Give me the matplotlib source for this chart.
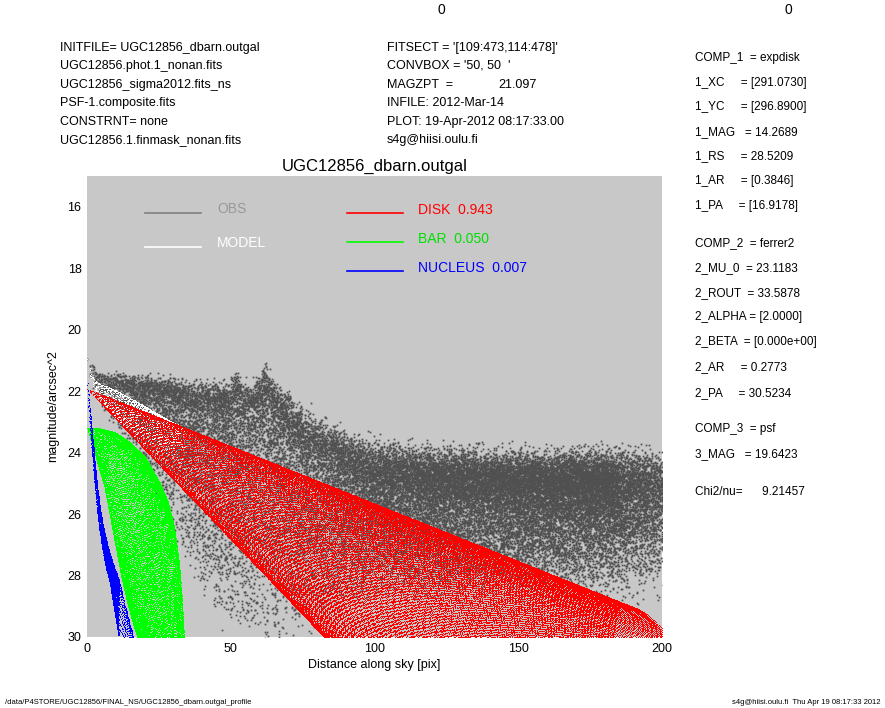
import numpy as np
import matplotlib
matplotlib.use('Agg')
import matplotlib.pyplot as plt

plt.rcParams['font.family'] = ['Liberation Sans', 'DejaVu Sans']

# image section and centre (from the header text)
sect_x = (109, 473)
sect_y = (114, 478)
xc, yc = 291.0730, 296.8900

# component shapes: axis ratio and position angle from the header
disk_q, disk_pa = 0.3846, 16.9178
bar_q, bar_pa = 0.2773, 30.5234
psf_q, psf_pa = 0.75, 0.0

# disk: bright (major axis) and faint (minor axis) edges
disk_r = [0, 50, 100, 150, 200]
disk_bright = [21.95, 23.82, 25.69, 27.56, 29.43]
disk_faint = [21.95, 26.85, 31.75, 36.65, 41.55]

# bar (ferrer2)
bar_r = [0, 5, 10, 15, 20, 25, 28, 30, 32, 33, 33.7, 40]
bar_bright = [23.22, 23.25, 23.38, 23.7, 24.15, 24.95, 25.6, 26.3, 27.6, 28.8, 30.0, 40.0]
bar_faint_r = [0, 2, 4, 6, 8, 10, 12, 14, 16, 17.5, 34]
bar_faint = [23.25, 23.8, 24.5, 25.1, 26.1, 27.1, 28.1, 28.9, 29.6, 30.0, 36.0]

# nucleus (psf): magnitude with inner and outer radius of the band
psf_mag = [21.75, 22.5, 23.0, 24.0, 25.0, 26.0, 26.6, 27.2, 27.8, 28.2, 29.0, 30.0]
psf_rin = [0.0, 0.4, 0.8, 1.7, 2.6, 3.6, 4.4, 5.4, 6.6, 7.8, 9.2, 11.0]
psf_rout = [0.3, 0.9, 1.4, 2.4, 3.4, 4.8, 6.0, 7.6, 9.6, 11.2, 13.2, 16.0]

obs_r = [0, 3, 6, 12, 20, 28, 35, 42, 47, 50, 52, 54, 57, 60, 62, 64, 67, 72, 80, 90, 100, 120, 150, 200]
obs_bright = [20.95, 21.45, 21.6, 21.65, 21.75, 21.85, 22.0, 22.05, 22.1, 22.05, 21.75, 22.1, 22.15,
              21.85, 21.5, 21.95, 22.35, 22.8, 23.4, 23.9, 24.3, 24.5, 24.6, 24.6]
obs_faint = [21.3, 22.0, 22.6, 23.3, 24.6, 26.2, 27.6, 28.8, 29.4, 29.6, 29.7, 29.9, 30.0,
             30.2, 30.2, 30.2, 30.2, 30.0, 29.6, 29.0, 28.6, 28.4, 28.3, 28.3]
obs_jit_r = [0, 10, 30, 60, 80, 100, 200]
obs_jit = [0.1, 0.25, 0.35, 0.5, 0.65, 0.75, 0.75]
obs_keep_r = [0, 40, 80, 200]
obs_keep = [0.9, 0.55, 0.28, 0.22]

fractions = {'DISK': '0.943', 'BAR': '0.050', 'NUCLEUS': '0.007'}


def hash01(i, seed):
    v = np.sin(i * 12.9898 + seed * 78.233) * 43758.5453
    return v - np.floor(v)


def ell_weight(theta, pa, q):
    d = np.radians(theta - pa)
    s = np.sqrt(np.cos(d) ** 2 + (np.sin(d) / q) ** 2)
    return (s - 1) / (1 / q - 1)


def pixel_grid(n, rmax):
    # pixel centres of the fitted section, n x n samples per pixel
    off = (np.arange(n) + 0.5) / n - 0.5
    xs = (np.arange(sect_x[0], sect_x[1] + 1)[:, None] + off).ravel() - xc
    ys = (np.arange(sect_y[0], sect_y[1] + 1)[:, None] + off).ravel() - yc
    xs = xs[np.abs(xs) <= rmax]
    ys = ys[np.abs(ys) <= rmax]
    gx, gy = np.meshgrid(xs, ys)
    gx, gy = gx.ravel(), gy.ravel()
    rr = np.hypot(gx, gy)
    ok = rr <= rmax
    return rr[ok], np.degrees(np.arctan2(-gx[ok], gy[ok]))


def disk_mag(rr, th):
    b = np.interp(rr, disk_r, disk_bright)
    return b + (np.interp(rr, disk_r, disk_faint) - b) * ell_weight(th, disk_pa, disk_q)


def bar_mag(rr, th):
    b = np.interp(rr, bar_r, bar_bright, right=99)
    return b + (np.interp(rr, bar_faint_r, bar_faint, right=99) - b) * ell_weight(th, bar_pa, bar_q)


def psf_mag_at(rr, th):
    b = np.interp(rr, psf_rout, psf_mag, right=99)
    f = np.interp(rr, psf_rin, psf_mag, right=99)
    return b + (f - b) * ell_weight(th, psf_pa, psf_q)


r, theta = pixel_grid(1, 201)
idx = np.arange(r.size, dtype=float)
m_disk = disk_mag(r, theta)
m_bar = bar_mag(r, theta)
m_psf = psf_mag_at(r, theta)
flux = 10 ** (-0.4 * m_disk) + 10 ** (-0.4 * m_bar) + 10 ** (-0.4 * m_psf)
m_model = -2.5 * np.log10(flux)

h1, h2, h3, h4, h5 = (hash01(idx, s) for s in (1, 2, 3, 4, 5))
ob = np.interp(r, obs_r, obs_bright)
of = np.interp(r, obs_r, obs_faint)
m_obs = ob + (of - ob) * ell_weight(theta, disk_pa, disk_q) * h1 + \
    np.interp(r, obs_jit_r, obs_jit) * (h2 + h3 + h4 - 1.5)
m_obs[h5 > np.interp(r, obs_keep_r, obs_keep)] = 99

# finer sampling for the small inner components
rb, tb = pixel_grid(3, 36)
rp, tp = pixel_grid(4, 17)

fig = plt.figure(figsize=(8.85, 7.08), dpi=100)
ax = fig.add_axes([0.0983, 0.1003, 0.6497, 0.6511])
ax.set_facecolor('#c8c8c8')
for s in ax.spines.values():
    s.set_visible(False)


def show(x, m, color, marker, ms=1.0):
    ok = m <= 30.2
    ax.plot(x[ok], m[ok], marker, color=color, ms=ms, mec='none', ls='none')


show(r, m_obs, '#505050', 's', 1.25)
show(r, m_model, 'white', ',')
show(r, m_disk, '#ff0000', ',')
show(rb, bar_mag(rb, tb), '#00ff00', ',')
show(rp, psf_mag_at(rp, tp), '#0000ff', ',')

ax.set_xlim(0, 200)
ax.set_ylim(30, 15)
ax.set_xticks([0, 50, 100, 150, 200])
ax.set_yticks(range(16, 31, 2))
ax.tick_params(length=0, labelsize=9, pad=4)
ax.set_xlabel('Distance along sky [pix]', fontsize=9, labelpad=3)
ax.set_ylabel('magnitude/arcsec^2', fontsize=9, labelpad=6)
ax.set_title('UGC12856_dbarn.outgal', fontsize=12, pad=4)

# legend
leg = [('OBS', '#808080', '#999999', 0.101, 0.920, 0.226, 0.928),
       ('MODEL', 'white', 'white', 0.101, 0.846, 0.226, 0.855),
       ('DISK  ' + fractions['DISK'], '#ff0000', '#ff0000', 0.452, 0.920, 0.576, 0.926),
       ('BAR  ' + fractions['BAR'], '#00ff00', '#00e000', 0.452, 0.857, 0.576, 0.863),
       ('NUCLEUS  ' + fractions['NUCLEUS'], '#0000ff', '#0000ff', 0.452, 0.794, 0.576, 0.800)]
for lab, lc, tc, lx, ly, tx, ty in leg:
    ax.plot([lx, lx + 0.098], [ly, ly], color=lc, lw=1.2, transform=ax.transAxes)
    ax.text(tx, ty, lab, color=tc, fontsize=10, va='center', transform=ax.transAxes)


def ftext(x, y, s, **kw):
    fig.text(x / 885, 1 - y / 708, s, va='center', **kw)


ftext(441, 10, '0', fontsize=10, ha='center')
ftext(788, 10, '0', fontsize=10, ha='center')

left_col = ['INITFILE= UGC12856_dbarn.outgal', 'UGC12856.phot.1_nonan.fits',
            'UGC12856_sigma2012.fits_ns', 'PSF-1.composite.fits',
            'CONSTRNT= none', 'UGC12856.1.finmask_nonan.fits']
mid_col = ["FITSECT = '[109:473,114:478]'", "CONVBOX = '50, 50  '", 'MAGZPT  =',
           'INFILE: 2012-Mar-14', 'PLOT: 19-Apr-2012 08:17:33.00', 's4g@hiisi.oulu.fi']
rows_y = [48, 66, 85, 103, 122, 140]
for s, y in zip(left_col, rows_y):
    ftext(60, y, s, fontsize=9)
for s, y in zip(mid_col, rows_y):
    ftext(387, y, s, fontsize=9)
ftext(498, 85, '21.097', fontsize=9)

right_col = [('COMP_1  = expdisk', 58), ('1_XC     = [291.0730]', 83),
             ('1_YC     = [296.8900]', 107), ('1_MAG   = 14.2689', 132),
             ('1_RS     = 28.5209', 156), ('1_AR     = [0.3846]', 181),
             ('1_PA     = [16.9178]', 206), ('COMP_2  = ferrer2', 243),
             ('2_MU_0  = 23.1183', 268), ('2_ROUT  = 33.5878', 293),
             ('2_ALPHA = [2.0000]', 317), ('2_BETA  = [0.000e+00]', 342),
             ('2_AR     = 0.2773', 367), ('2_PA     = 30.5234', 393),
             ('COMP_3  = psf', 429), ('3_MAG   = 19.6423', 454),
             ('Chi2/nu=      9.21457', 492)]
for s, y in right_col:
    ftext(695, y, s, fontsize=8.5)

ftext(5, 703, '/data/P4STORE/UGC12856/FINAL_NS/UGC12856_dbarn.outgal_profile', fontsize=5.5)
ftext(880, 703, 's4g@hiisi.oulu.fi  Thu Apr 19 08:17:33 2012', fontsize=5.5, ha='right')

fig.savefig('out.png', dpi=100)
